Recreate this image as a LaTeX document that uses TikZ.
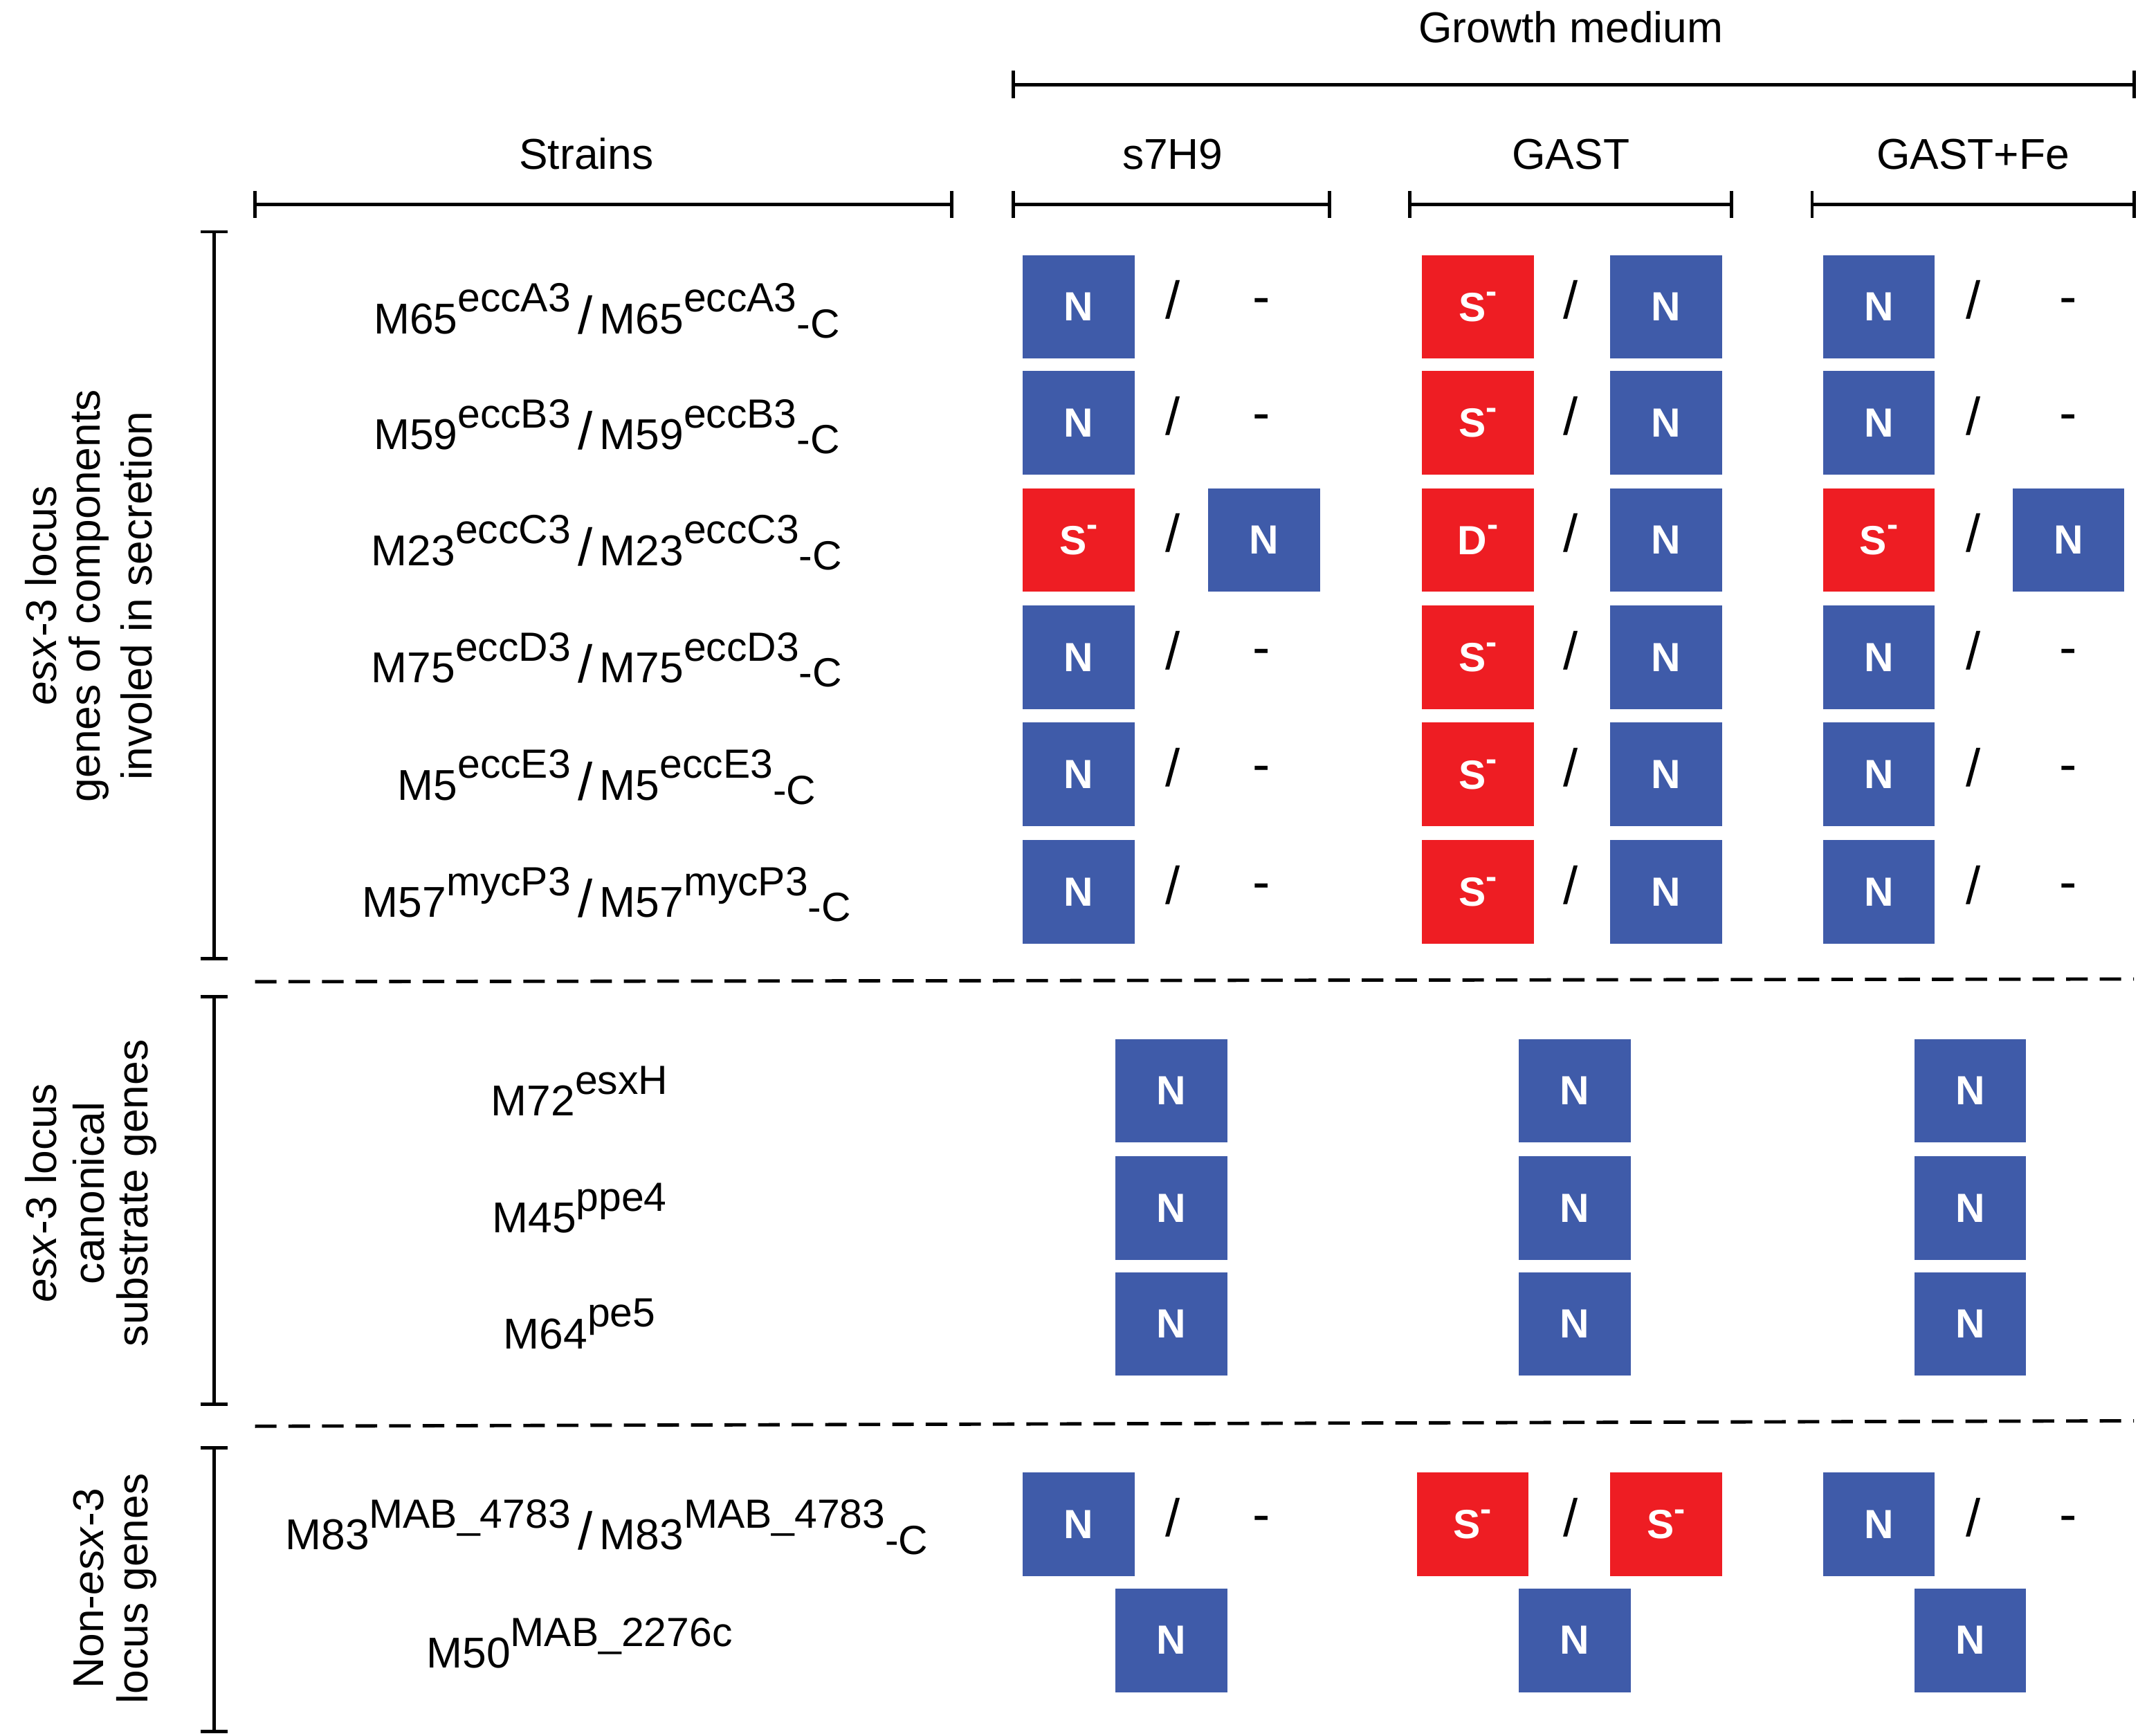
\documentclass[tikz,border=0pt]{standalone}
\usepackage{fontspec}
\setmainfont{Liberation Sans}
\newcommand{\Up}[1]{\raisebox{0.5em}{\fontsize{17}{19}\selectfont #1}}
\newcommand{\Mi}{\raisebox{0.45em}{\fontsize{14}{16}\selectfont\bfseries -}}
\begin{document}
\begin{tikzpicture}[x=0.02cm,y=-0.02cm,
  box/.style={minimum width=1.64cm,minimum height=1.52cm,inner sep=0,text=white,font=\fontsize{17}{19}\selectfont\bfseries},
  nb/.style={box,fill=nblue},
  sb/.style={box,fill=sred},
  lab/.style={font=\fontsize{18}{20}\selectfont},
  sep/.style={font=\fontsize{22}{24}\selectfont},
  br/.style={line width=1.4pt}]
\definecolor{nblue}{HTML}{3F5BA9}
\definecolor{sred}{HTML}{EE1D23}
\useasboundingbox (0,0) rectangle (1568,1273);
% header brackets
\node[lab] (gm) at (1152,20) {Growth medium};
\coordinate (g1) at (743,62); \coordinate (g2) at (1565,62);
\draw[br] (g1) -- (g2); \draw[br] (743,52)--(743,72); \draw[br] (1565,52)--(1565,72);
\node[lab] (st) at (430,113) {Strains};
\node[lab] (h1) at (860,113) {s7H9};
\node[lab] (h2) at (1152,113) {GAST};
\node[lab] (h3) at (1447,113) {GAST+Fe};
\foreach \a/\b in {187/698,743/975,1034/1270,1329/1565}{
  \draw[br] (\a,150)--(\b,150); \draw[br] (\a,140)--(\a,160); \draw[br] (\b,140)--(\b,160);}
% left brackets
\foreach \a/\b in {170/703,731/1030,1062/1270}{
  \draw[br] (157,\a)--(157,\b); \draw[br] (147,\a)--(167,\a); \draw[br] (147,\b)--(167,\b);}
\draw[br,dash pattern=on 9pt off 5pt] (187,720)--(1565,718);
\draw[br,dash pattern=on 9pt off 5pt] (187,1046)--(1565,1042);
% left rotated labels
\begin{scope}[every node/.style={lab,rotate=90}]
\node (l1) at (30,437) {\textit{esx}-3 locus};
\node (l2) at (65,437) {genes of components};
\node (l3) at (100,437) {involed in secretion};
\node (l4) at (30,875) {\textit{esx}-3 locus};
\node (l5) at (65,875) {canonical};
\node (l6) at (100,875) {substrate genes};
\node (l7) at (65,1165) {Non-\textit{esx}-3};
\node (l8) at (100,1165) {locus genes};
\end{scope}
% strain labels
\foreach \m/\g/\y/\n in {65/eccA3/228/s1,59/eccB3/313/s2,23/eccC3/398/s3,75/eccD3/484/s4,5/eccE3/570/s5,57/mycP3/656/s6,83/MAB\_4783/1120/s7}
  {\node[lab] (\n) at (445,\y) {M\m\Up{\g}\,{\fontsize{22}{24}\selectfont /}\,M\m\Up{\g}\raisebox{-0.1em}{\fontsize{17}{19}\selectfont -C}};}
\foreach \m/\g/\y/\n in {72/esxH/800/t1,45/ppe4/886/t2,64/pe5/971/t3,50/MAB\_2276c/1205/t4}
  {\node[lab] (\n) at (425,\y) {M\m\Up{\g}};}
% group 1 rows
\foreach \y/\i in {225/1,310/2,482/4,568/5,654/6}{
  \node[nb] (a\i) at (791,\y) {N}; \node[sep] at (860,\y-5) {/}; \node[sep] at (925,\y) {-};
  \node[sb] (b\i) at (1084,\y) {S\Mi}; \node[sep] at (1152,\y-5) {/}; \node[nb] (c\i) at (1222,\y) {N};
  \node[nb] (d\i) at (1378,\y) {N}; \node[sep] at (1447,\y-5) {/}; \node[sep] at (1517,\y) {-};}
\node[sb] (a3) at (791,396) {S\Mi}; \node[sep] at (860,391) {/}; \node[nb] (e3) at (927,396) {N};
\node[sb] (b3) at (1084,396) {D\Mi}; \node[sep] at (1152,391) {/}; \node[nb] (c3) at (1222,396) {N};
\node[sb] (d3) at (1378,396) {S\Mi}; \node[sep] at (1447,391) {/}; \node[nb] (f3) at (1517,396) {N};
% group 2 and last row
\foreach \y/\i in {800/1,886/2,971/3,1203/4}{
  \node[nb] (p\i) at (859,\y) {N}; \node[nb] (q\i) at (1155,\y) {N}; \node[nb] (r\i) at (1445,\y) {N};}
% group 3 row 1
\node[nb] (a7) at (791,1118) {N}; \node[sep] at (860,1113) {/}; \node[sep] at (925,1118) {-};
\node[sb] (b7) at (1080,1118) {S\Mi}; \node[sep] at (1152,1113) {/}; \node[sb] (c7) at (1222,1118) {S\Mi};
\node[nb] (d7) at (1378,1118) {N}; \node[sep] at (1447,1113) {/}; \node[sep] at (1517,1118) {-};
\end{tikzpicture}
\end{document}
